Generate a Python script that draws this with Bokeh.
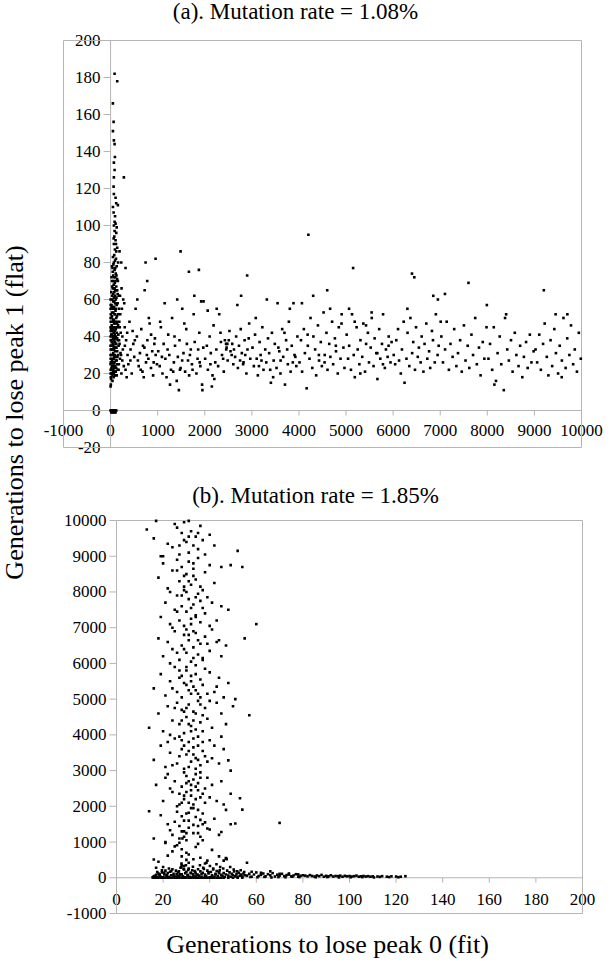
import numpy as np
from bokeh.plotting import figure
from bokeh.models import Range1d
from bokeh.embed import file_html
from bokeh.resources import INLINE
from bokeh.core.properties import value

# ---------------- data ----------------
title_a = "(a). Mutation rate = 1.08%"
title_b = "(b). Mutation rate = 1.85%"
ylabel = "Generations to lose peak 1 (flat)"
xlabel = "Generations to lose peak 0 (fit)"

a_xticks = [-1000, 0, 1000, 2000, 3000, 4000, 5000, 6000, 7000, 8000, 9000, 10000]
a_yticks = [-20, 0, 20, 40, 60, 80, 100, 120, 140, 160, 180, 200]
b_xticks = [0, 20, 40, 60, 80, 100, 120, 140, 160, 180, 200]
b_yticks = [-1000, 0, 1000, 2000, 3000, 4000, 5000, 6000, 7000, 8000, 9000, 10000]

# (a) points near x = 0 (vertical column)
a_col = [(85,182),(141,178),(49,166),(64,156),(50,151),(70,146),(85,144),(92,137),(70,134),(85,130),
 (70,126),(282,126),(64,121),(70,117),(106,115),(120,112),(155,111),(64,107),(85,102),(106,101),
 (70,100),(85,97),(120,96),(78,94),(106,92),(70,90),(92,87),(120,86),(78,84),(190,86),
 (50,83),(95,81),(60,79),(130,78),(40,77),(85,76),(110,74),(55,73),(75,72),(140,71),(30,70),(90,69),
 (65,68),(120,67),(45,66),(100,65),(80,64),(150,63),(35,62),(70,61),(110,60),(55,59),(95,58),(20,57),
 (130,57),(75,56),(45,55),(105,54),(60,53),(160,52),(85,52),(30,51),(120,50),(70,49),(50,48),(140,47),
 (95,47),(25,46),(80,45),(110,44),(60,44),(40,43),(130,42),(90,41),(15,41),(70,40),(100,39),(50,39),
 (150,38),(30,37),(85,37),(120,36),(60,35),(10,35),(100,34),(75,33),(40,33),(140,32),(55,31),(90,30),
 (20,30),(115,29),(70,28),(45,28),(130,27),(85,26),(5,26),(60,25),(100,24),(35,24),(75,23),(150,22),
 (50,21),(110,21),(25,20),(90,19),(65,18),(10,17),(40,16),(5,14),(0,13),
 (0,20),(0,25),(0,30),(0,35),(0,40),(0,45),(0,50),(0,55),(0,60),(2,22),(2,28),(2,33),(3,38),(3,43),
 (3,48),(4,52),(2,57),(5,18),
 (30,78),(70,80),(115,82),(45,75),(100,77),(125,73),(20,72),(60,70),(105,70),(35,67),(85,66),(140,65),
 (15,64),(55,63),(95,62),(125,61),(40,60),(80,59),(150,58),(25,56),(65,55),(115,55),(35,53),(95,52),
 (135,51),(20,50),(55,49),(100,48),(75,47),(160,46),(40,45),(125,45),(10,44),(90,43),(65,42),(30,41),
 (115,40),(50,40),(140,39),(80,38),(20,38),(105,36),(45,36),(65,34),(125,34),(30,33),(95,32),(55,30),
 (160,30),(80,29),(35,27),(110,27),(55,26),(140,25),(80,24),(20,23),(120,23),(60,22),(95,21),(40,19),
 (70,20),(130,19),(15,22),
 (170,35),(185,48),(200,28),(215,42),(240,55),(260,33),(280,24),(300,45),(330,38),(360,30),(200,62),
 (175,25),(230,20),(290,58),(250,40),
 (110,58),(135,48),(165,41),(180,55),(145,29),(170,22),(125,65),(155,70),(100,72),(175,62),(190,36),
 (210,31),(195,45),(160,80),(140,88),(115,90),(65,93),(95,105),(50,110),(130,99)]

# (a) points on y = 0
a_zero = [(0,0),(10,0),(20,0),(30,0),(40,0),(50,0),(60,0),(70,0),(80,0),(90,0),(100,0),(110,0),(120,0),
 (15,-1),(45,-1),(75,-1),(105,-1)]

# (a) scattered band over the whole x range
a_band = [(160,45),(180,38),(205,52),(222,30),(248,27),(268,60),(303,35),(318,22),(352,42),(377,25),
 (401,48),(424,33),(449,20),(483,36),(502,29),(531,55),(558,40),(597,24),(623,31),(652,44),(677,21),
 (704,18),(718,34),(752,26),(781,38),(803,28),(829,47),(858,23),(884,32),(903,19),(929,36),(957,30),
 (984,25),(233,66),(341,18),(468,43),(579,27),(688,35),(812,50),(941,39),(318,77),(226,80),(743,80),
 (955,82),(778,70),(723,65),(568,60),(420,27),(515,38),(640,22),(770,30),(860,41),(915,26),
 (1012,32),(1043,24),(1068,45),(1102,20),(1127,36),(1163,28),(1188,18),(1224,41),(1247,30),(1283,22),
 (1306,50),(1344,26),(1368,35),(1404,16),(1428,29),(1463,38),(1487,23),(1522,55),(1548,31),(1583,21),
 (1607,44),(1644,27),(1668,19),(1703,33),(1727,25),(1764,52),(1786,37),(1823,20),(1847,28),(1884,42),
 (1906,24),(1943,14),(1968,34),(1053,48),(1148,58),(1262,14),(1357,40),(1473,22),(1566,47),(1684,30),
 (1778,62),(1893,26),(1486,86),(1663,75),(1875,76),(1450,11),(1950,11),(1415,60),(1924,59),(1974,59),
 (1090,29),(1210,33),(1330,21),(1520,27),(1620,36),(1740,22),(1860,33),
 (2008,28),(2044,35),(2066,22),(2103,40),(2128,31),(2164,19),(2187,46),(2223,26),(2246,33),(2284,24),
 (2307,52),(2343,37),(2366,30),(2404,21),(2427,38),(2463,34),(2486,27),(2524,43),(2547,32),(2583,36),
 (2606,25),(2644,29),(2667,40),(2703,23),(2726,35),(2764,44),(2787,31),(2823,26),(2846,38),(2884,20),
 (2907,33),(2943,47),(2966,28),(2062,54),(2203,17),(2334,42),(2452,36),(2571,30),(2692,57),(2814,25),
 (2933,39),(2150,13),(2900,73),(2253,55),(2772,62),(2480,36),(2510,38),(2455,33),
 (2120,25),(2390,28),(2620,33),(2750,27),(2860,30),
 (3013,34),(3042,24),(3068,41),(3103,28),(3127,19),(3164,37),(3186,30),(3223,45),(3247,22),(3284,33),
 (3306,26),(3343,39),(3367,31),(3404,15),(3426,42),(3463,27),(3487,36),(3524,23),(3546,58),(3583,32),
 (3607,20),(3644,44),(3666,29),(3703,14),(3727,38),(3764,25),(3786,48),(3823,21),(3847,35),(3884,58),
 (3906,30),(3944,24),(3967,40),(3083,50),(3204,27),(3318,60),(3452,18),(3563,34),(3692,42),(3806,55),
 (3924,29),(3150,24),(3390,22),(3610,27),(3750,33),(3870,26),
 (4012,26),(4043,38),(4067,21),(4104,44),(4126,31),(4163,12),(4188,35),(4224,28),(4246,50),(4283,23),
 (4307,40),(4344,33),(4366,19),(4403,46),(4427,27),(4464,37),(4486,24),(4523,53),(4547,30),(4584,42),
 (4606,22),(4643,36),(4667,29),(4704,48),(4726,25),(4763,39),(4787,32),(4824,20),(4846,45),(4883,28),
 (4907,52),(4944,34),(4966,23),(4063,58),(4184,41),(4302,62),(4423,30),(4544,26),(4662,55),(4783,35),
 (4904,47),(4200,95),(4600,65),
 (5013,41),(5043,28),(5066,35),(5104,22),(5127,52),(5163,30),(5186,18),(5224,45),(5247,33),(5283,25),
 (5306,38),(5344,29),(5367,47),(5403,21),(5426,36),(5464,42),(5487,26),(5523,34),(5546,50),(5584,24),
 (5607,39),(5643,31),(5666,17),(5704,44),(5727,28),(5763,36),(5786,52),(5824,23),(5847,33),(5883,29),
 (5906,40),(5944,26),(5967,37),(5064,55),(5184,48),(5303,20),(5424,46),(5543,53),(5664,31),(5784,25),
 (5903,35),(5150,77),
 (6012,30),(6043,25),(6067,38),(6104,44),(6126,27),(6163,20),(6187,33),(6224,48),(6242,15),(6283,28),
 (6306,42),(6344,24),(6367,50),(6404,31),(6427,37),(6464,22),(6486,45),(6523,29),(6547,34),(6584,26),
 (6606,40),(6643,21),(6667,36),(6704,47),(6726,28),(6764,32),(6787,23),(6824,43),(6846,38),(6884,26),
 (6907,52),(6944,30),(6967,35),(6400,74),(6450,72),(6303,55),(6852,62),(6950,60),
 (7024,40),(7058,26),(7103,33),(7137,48),(7184,22),(7218,36),(7263,29),(7297,44),(7343,24),(7377,31),
 (7423,38),(7457,21),(7503,46),(7537,27),(7583,35),(7617,23),(7663,41),(7697,30),(7743,50),(7777,25),
 (7823,34),(7857,19),(7903,37),(7937,28),(7983,45),(7600,69),(7100,63),(7010,48),
 (8024,28),(8058,36),(8103,22),(8137,45),(8184,16),(8218,31),(8263,40),(8297,25),(8350,11),(8377,50),
 (8423,33),(8457,27),(8503,38),(8537,21),(8583,42),(8617,30),(8663,24),(8697,35),(8743,18),(8777,29),
 (8823,37),(8857,23),(8903,41),(8937,26),(8983,32),(8150,14),(8400,52),(7990,57),
 (9024,33),(9058,26),(9103,41),(9137,22),(9184,36),(9218,47),(9263,29),(9297,19),(9343,38),(9377,24),
 (9423,44),(9457,31),(9503,20),(9537,35),(9583,27),(9617,50),(9663,23),(9697,39),(9743,30),(9777,46),
 (9823,25),(9857,33),(9903,21),(9943,42),(9985,28),(9200,65),(9450,52),(9700,52),(9580,18)]

# (b) tall column
b_col = [(18,450),(22,620),(25,880),(28,350),(30,700),(33,520),(35,950),(38,400),(41,780),(44,600),
 (20,300),(27,980),(31,420),(36,560),(24,740),(29,330),(34,860),(39,480),(47,550),(26,910),(16,512),
 (17,280),(21,978),
 (16,1100),(19,1750),(22,1500),(24,1200),(26,1850),(28,1300),(29,1600),(30,1050),(31,1400),(32,1950),
 (33,1250),(34,1700),(35,1450),(36,1150),(37,1800),(38,1550),(40,1350),(42,1650),(44,1200),(47,1900),
 (49,1500),(51,1520),(21,1000),(27,1100),(30,1250),(33,1480),(36,1620),(39,1380),(25,1570),(31,1820),
 (45,1280),(54,1908),(70,1536),(14,1862),(23,1330),(35,1900),(37,1050),(28,1720),
 (27,1450),(29,1150),(31,1600),(33,1950),(35,1250),(37,1500),(30,1800),
 (17,2600),(20,2150),(22,2900),(24,2400),(25,2700),(27,2050),(28,2550),(29,2300),(30,2850),(31,2100),
 (32,2450),(33,2750),(34,2200),(35,2650),(36,2950),(37,2350),(38,2500),(39,2800),(40,2250),(41,2600),
 (43,2150),(45,2700),(46,2050),(49,2350),(53,2225),(23,2500),(26,2000),(30,2400),(34,2900),(38,2100),
 (21,2800),(32,2600),(27,2350),(31,2700),(36,2250),(29,2950),
 (28,2100),(30,2650),(32,2300),(34,2550),(36,2800),(29,2200),(33,2050),(35,2450),
 (16,3300),(19,3700),(21,3100),(23,3500),(25,3900),(26,3200),(28,3600),(29,3050),(30,3450),(31,3800),
 (32,3250),(33,3650),(34,3350),(35,3950),(36,3150),(37,3550),(38,3400),(40,3850),(41,3345),(42,3700),
 (44,3200),(46,3600),(48,3287),(49,3000),(22,3800),(27,3400),(31,3550),(35,3700),(39,3250),(24,3150),
 (33,3900),(45,3950),(28,3850),(34,3050),
 (31,3100),(33,3450),(35,3300),(29,3700),(27,3950),(37,3800),
 (14,4200),(18,4600),(20,4100),(22,4800),(24,4400),(26,4900),(27,4300),(28,4700),(29,4050),(30,4500),
 (31,4850),(32,4250),(33,4650),(34,4150),(35,4950),(36,4350),(37,4550),(38,4750),(39,4450),(41,4200),
 (43,4900),(45,4600),(47,4300),(50,4800),(57,4550),(23,4000),(29,4650),(33,4400),(37,4100),(25,4750),
 (31,4300),(40,4950),(32,4100),(34,4600),(30,4750),(28,4400),(36,4850),
 (16,5300),(19,5700),(21,5100),(23,5500),(25,5900),(26,5200),(27,5600),(28,5050),(29,5450),(30,5800),
 (31,5250),(32,5650),(33,5350),(34,5950),(35,5150),(36,5550),(37,5400),(38,5850),(40,5750),(42,5200),
 (44,5600),(46,5050),(48,5450),(51,5000),(24,5300),(30,5900),(34,5700),(39,5150),(27,5800),(32,5500),
 (36,5050),(43,5350),(32,5150),(30,5400),(34,5250),(28,5650),
 (18,6700),(20,6200),(22,6600),(24,6400),(25,6900),(27,6100),(28,6500),(29,6800),(30,6300),(31,6650),
 (32,6050),(33,6450),(34,6850),(35,6250),(36,6550),(37,6150),(38,6750),(40,6350),(41,6950),(43,6600),
 (45,6200),(47,6500),(55,6700),(60,7100),(23,6000),(29,6400),(33,6900),(37,6100),(26,6300),(31,6800),
 (39,6550),(44,6650),(33,6150),(35,6650),(30,6950),
 (19,7300),(21,7700),(23,7100),(25,7500),(26,7900),(27,7200),(28,7600),(29,7050),(30,7450),(31,7800),
 (32,7250),(33,7650),(34,7350),(35,7950),(36,7150),(37,7550),(38,7400),(39,7850),(41,7700),(43,7200),
 (45,7600),(48,7500),(24,7000),(28,7900),(32,7100),(36,7750),(30,8000),(34,7300),(40,7050),(26,7450),
 (32,7550),(34,7850),
 (18,8400),(20,8800),(22,8100),(24,8600),(26,8900),(27,8300),(28,8700),(29,8050),(30,8500),(31,8850),
 (32,8200),(33,8650),(34,8350),(35,8950),(36,8150),(38,8550),(40,8750),(42,8250),(45,8700),(49,8750),
 (54,8700),(23,8000),(29,8450),(33,8800),(37,8050),(26,8600),(31,8300),(29,8150),(33,8450),
 (13,9750),(16,9500),(17,9990),(19,9000),(22,9350),(24,9250),(26,9800),(27,9050),(28,9650),(29,9950),
 (30,9400),(31,9100),(32,9700),(33,9300),(34,9550),(35,9200),(36,9850),(37,9450),(38,9050),(40,9600),
 (42,9300),(52,9150),(25,9900),(31,9990),(35,9650),(20,9000),(29,9450),(31,9550),(27,9300)]

# (b) dense low band
b_band = [(15.5,10),(16,40),(16.5,5),(17,80),(17.5,20),(18,120),(18.5,60),(19,30),(19.5,150),(20,15),
 (20.5,90),(21,200),(21.5,45),(22,130),(22.5,25),(23,170),(23.5,70),(24,240),(24.5,110),(25,35),
 (16,0),(17,0),(18,0),(19,0),(20,0),(21,0),(22,0),(23,0),(24,0),(25,0),(16.5,55),(17.5,160),(18.5,95),
 (19.5,210),(20.5,140),(21.5,75),(22.5,260),(23.5,190),(24.5,50),
 (25.5,200),(26,20),(26.5,150),(27,60),(27.5,280),(28,100),(28.5,40),(29,230),(29.5,10),(30,170),
 (30.5,80),(31,260),(31.5,30),(32,140),(32.5,210),(33,50),(33.5,190),(34,120),(34.5,70),(35,240),
 (26,0),(27,0),(28,0),(29,0),(30,0),(31,0),(32,0),(33,0),(34,0),(35,0),(25.8,110),(26.8,180),(27.8,300),
 (28.8,250),(29.8,350),(30.8,220),(31.8,130),(32.8,310),(33.8,160),(34.8,90),(28,600),(28,800),
 (28.3,1100),(27.9,400),(29,1300),(30,500),(31,650),(26.2,45),(27.3,95),(28.4,20),(29.5,130),(30.6,60),
 (31.7,15),(32.8,100),(33.9,35),
 (35.5,60),(36,180),(36.5,20),(37,140),(37.5,250),(38,90),(38.5,40),(39,200),(39.5,120),(40,15),
 (40.5,160),(41,70),(41.5,230),(42,30),(42.5,110),(43,190),(43.5,50),(44,130),(44.5,300),(45,80),
 (36,0),(37,0),(38,0),(39,0),(40,0),(41,0),(42,0),(43,0),(44,0),(45,0),(35.8,350),(37.2,280),(38.6,420),
 (40.1,330),(41.5,260),(42.9,380),(44.3,210),(36.5,100),(38,55),(39.5,150),(41,35),(42.5,90),(44,160),
 (45.5,50),(46,130),(46.5,20),(47,90),(47.5,200),(48,60),(48.5,150),(49,30),(49.5,110),(50,70),
 (50.5,180),(51,40),(51.5,100),(52,25),(52.5,140),(53,60),(53.5,90),(54,35),(54.5,120),(55,70),
 (46,0),(48,0),(50,0),(52,0),(54,0),(45.8,260),(47.3,520),(48.8,300),(50.3,230),(51.8,180),(53.3,210),
 (54.8,160),(46,480),(47,540),(56,420),
 (56,60),(57,110),(58,30),(59,90),(60,150),(61,50),(62,80),(63,120),(64,40),(65,100),(66,70),(67,130),
 (68,35),(69,85),(70,60),(71,110),(72,45),(73,75),(74,90),(75,40),(76,65),(77,100),(78,30),(79,55),
 (80,70),(57.5,20),(60.5,15),(63.5,25),(66.5,10),(69.5,20),(72.5,15),(75.5,30),(78.5,20),(58,170),
 (62,140),(66,180),(70,110),(74,120),(78,95),
 (81,60),(82,40),(83,75),(84,50),(85,35),(86,65),(87,45),(88,80),(89,30),(90,55),(91,40),(92,70),
 (93,35),(94,50),(95,45),(96,60),(97,30),(98,55),(99,40),(100,50),(101,35),(102,45),(103,60),(104,30),
 (105,40),(106,50),(107,35),(108,45),(109,30),(110,40),(112,35),(114,45),(116,30),(118,40),(120,35),
 (122,30),(124,45),(85.5,15),(90.5,20),(95.5,10),(100.5,15),(105.5,20),(110.5,10),(113,25),(117,20),
 (121,15)]

# ---------------- layout / styling ----------------
TICK_FONT = "Times New Roman"
TITLE_FONT = "Liberation Serif"
XLAB_FONT = "Times"
YLAB_FONT = "Tinos"
GREY = "#b5b5b5"
W, H = 603, 963          # canvas (page minus its 8px margin)


def xs(pts):
    return [p[0] for p in pts]


def ys(pts):
    return [p[1] for p in pts]


def rng(d0, d1, p0, p1, total):
    """Range so that data d0 sits at pixel p0 and d1 at pixel p1 (pixels from left / bottom)."""
    s = (p1 - p0) / (d1 - d0)
    return Range1d(d0 - p0 / s, d0 + (total - p0) / s)


# plot areas, in canvas pixels (x from left, y from bottom)
ax_x = rng(a_xticks[0], a_xticks[-1], 63, 581, W)
ax_y = rng(a_yticks[0], a_yticks[-1], H - 447, H - 40, H)
bx_x = rng(b_xticks[0], b_xticks[-1], 116, 582, W)
bx_y = rng(b_yticks[0], b_yticks[-1], H - 913, H - 520, H)


def px_x(r, px):
    return r.start + px / W * (r.end - r.start)


def px_y(r, py_top):
    return r.end - py_top / H * (r.end - r.start)


def per_px(r, total):
    return (r.end - r.start) / total


p = figure(width=W, height=H, x_range=ax_x, y_range=ax_y,
           extra_x_ranges={"b": bx_x}, extra_y_ranges={"b": bx_y},
           output_backend="svg", toolbar_location=None, min_border=0,
           x_axis_location=None, y_axis_location=None)
p.grid.grid_line_color = None
p.outline_line_color = None
p.background_fill_color = "white"
p.border_fill_color = "white"

# titles and axis labels (drawn first)
p.text(x=[px_x(ax_x, 295)], y=[px_y(ax_y, 11)], text=[title_a], text_align="center",
       text_baseline="middle", text_font=value(TITLE_FONT), text_font_size=value("23px"),
       text_color="black")
p.text(x=[px_x(bx_x, 315)], y=[px_y(bx_y, 495)], text=[title_b], text_align="center",
       text_baseline="middle", text_font=value(TITLE_FONT), text_font_size=value("23px"),
       text_color="black", x_range_name="b", y_range_name="b")
p.text(x=[px_x(bx_x, 327)], y=[px_y(bx_y, 944)], text=[xlabel], text_align="center",
       text_baseline="middle", text_font=value(XLAB_FONT), text_font_size=value("26px"),
       text_color="black", x_range_name="b", y_range_name="b")
p.text(x=[px_x(ax_x, 14)], y=[px_y(ax_y, 412)], text=[ylabel], text_align="center",
       text_baseline="middle", angle=np.pi / 2, text_font=value(YLAB_FONT),
       text_font_size=value("26px"), text_color="black")


def panel(xt, yt, xr, yr, rn, xtick_px, ytick_px, xlab_off):
    kw = {} if rn is None else dict(x_range_name=rn, y_range_name=rn)
    dx = per_px(xr, W)
    dy = per_px(yr, H)
    x0, x1, y0, y1 = xt[0], xt[-1], yt[0], yt[-1]
    # tick labels
    p.text(x=[0] * len(yt), y=yt, text=[str(t) for t in yt], text_align="right",
           text_baseline="middle", x_offset=-(ytick_px + 3), text_font=value(TICK_FONT),
           text_font_size=value("17px"), text_color="black", **kw)
    p.text(x=xt, y=[0] * len(xt), text=[str(t) for t in xt], text_align="center",
           text_baseline="middle", y_offset=xlab_off, text_font=value(TICK_FONT),
           text_font_size=value("17px"), text_color="black", **kw)
    # frame
    p.quad(left=[x0], right=[x1], bottom=[y0], top=[y1], fill_color=None,
           line_color=GREY, line_width=1, **kw)
    # axis lines through zero
    p.segment(x0=[0, x0], y0=[y0, 0], x1=[0, x1], y1=[y1, 0], line_color=GREY, line_width=1, **kw)
    # ticks
    p.segment(x0=[0 - ytick_px * dx] * len(yt), y0=yt, x1=[0] * len(yt), y1=yt,
              line_color=GREY, line_width=1, **kw)
    p.segment(x0=xt, y0=[0 - xtick_px * dy] * len(xt), x1=xt, y1=[0] * len(xt),
              line_color=GREY, line_width=1, **kw)


panel(a_xticks, a_yticks, ax_x, ax_y, None, 5, 7, 20)
panel(b_xticks, b_yticks, bx_x, bx_y, "b", 5, 7, 22)

# points (one glyph per panel)
a_pts = a_col + a_zero + a_band
b_pts = b_col + b_band
p.scatter(xs(a_pts), ys(a_pts), marker="square", size=2.6, fill_color="black", line_color=None)
p.scatter(xs(b_pts), ys(b_pts), marker="square", size=2.6, fill_color="black", line_color=None,
          x_range_name="b", y_range_name="b")

open("out.html", "w").write(file_html(p, INLINE))
